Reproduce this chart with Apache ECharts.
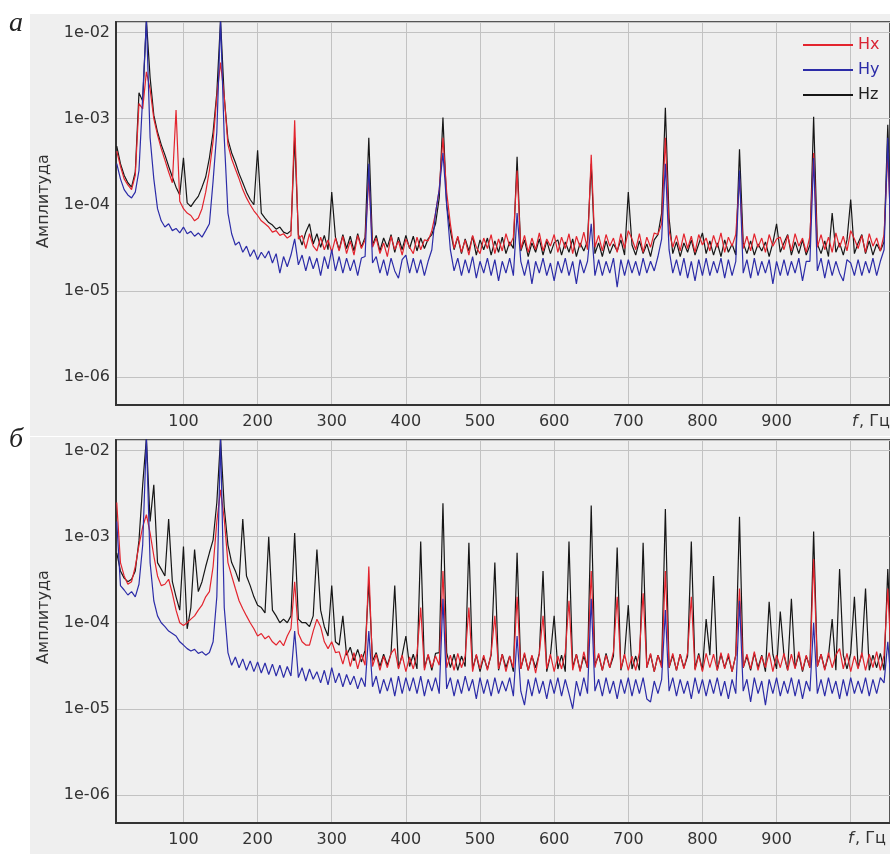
<!DOCTYPE html>
<html>
<head>
<meta charset="utf-8">
<script src="https://cdn.jsdelivr.net/npm/echarts@6/dist/echarts.min.js"></script>
<style>
html, body { margin: 0; padding: 0; background: #fff; }
#wrap { position: relative; width: 890px; height: 854px; overflow: hidden; }
.panel-bg { position: absolute; left: 30px; width: 860px; background: #efefef; }
#chart { position: absolute; left: 0; top: 0; width: 890px; height: 854px; }
</style>
</head>
<body>
<div id="wrap">
  <div class="panel-bg" style="top:14px;height:422px"></div>
  <div class="panel-bg" style="top:437px;height:417px"></div>
  <div id="chart"></div>
</div>
<script>
// сетка частот: 10, 15, ... 1055 Гц
const FREQ_START = 10;
const FREQ_STEP = 5;
// амплитуды записаны в единицах 1e-5
const UNIT = 1e-5;

// ---- панель а ----
const a_hx = [
  42, 28, 20, 17, 15, 22, 150, 130, 350, 220,        // 10
  100, 65, 45, 33, 24, 18, 126, 11, 9, 8,            // 60
  7.5, 6.5, 7, 9, 14, 25, 55, 180, 450, 180,         // 110
  50, 34, 26, 20, 15, 12, 10, 8.5, 7.5, 6.5,         // 160
  6, 5.5, 4.8, 5, 4.4, 4.6, 4.1, 4.4, 96, 4,         // 210
  4.4, 3.1, 4.6, 3.3, 2.9, 4.2, 3, 3.9, 2.8, 4.1,    // 260
  2.9, 4.3, 2.7, 3.8, 2.6, 4.4, 3.1, 3.9, 20, 3.2,   // 310
  4.1, 2.7, 3.6, 2.5, 4.3, 3, 3.8, 2.6, 4, 3.2,      // 360
  2.7, 4.2, 3, 3.9, 3.8, 5, 8, 15, 60, 14,           // 410
  6, 3.1, 4.3, 2.8, 3.9, 2.6, 4.4, 3.2, 2.7, 4.1,    // 460
  3.1, 4.5, 2.7, 4, 2.9, 4.6, 3.3, 4.2, 25, 3,       // 510
  4.4, 2.8, 4.1, 3, 4.7, 2.9, 4, 3.3, 4.5, 2.8,      // 560
  4.2, 3.1, 4.6, 2.7, 4.3, 3.2, 4.8, 3, 38, 3.2,     // 610
  4.4, 2.9, 4.5, 3.3, 4.1, 2.8, 4.6, 3.1, 5, 4,      // 660
  3, 4.6, 2.8, 4.2, 3.2, 4.7, 4.5, 6, 60, 5,         // 710
  3.2, 4.4, 2.9, 4.6, 3.1, 4.3, 2.8, 4.5, 3.4, 4.1,  // 760
  2.9, 4.4, 3.2, 4.7, 2.8, 4.2, 3.3, 4.5, 20, 3.1,   // 810
  4.3, 2.9, 4.6, 3.2, 4.1, 2.8, 4.5, 3.3, 4, 4.2,    // 860
  3, 4.4, 2.9, 4.6, 3.3, 4.1, 2.8, 4.3, 40, 3.2,     // 910
  4.5, 3, 4.2, 2.8, 4.7, 3.2, 4.3, 2.9, 5, 4,        // 960
  3.1, 4.4, 2.8, 4.6, 3.3, 4.1, 2.9, 4.5, 40, 3.4    // 1010
];
const a_hy = [
  30, 20, 15, 13, 12, 14, 25, 180, 1400, 60,
  20, 9, 6.5, 5.5, 6, 5, 5.3, 4.7, 5.5, 4.6,
  4.9, 4.3, 4.7, 4.2, 5, 6, 19, 70, 1400, 60,
  8, 4.6, 3.4, 3.7, 2.8, 3.3, 2.5, 3, 2.3, 2.8,
  2.4, 2.9, 2.1, 2.7, 1.6, 2.5, 1.9, 2.6, 4, 2,
  2.6, 1.7, 2.5, 1.8, 2.4, 1.5, 2.5, 1.8, 3, 1.7,
  2.5, 1.6, 2.4, 1.7, 2.3, 1.5, 2.4, 2.5, 30, 2.1,
  2.5, 1.6, 2.3, 1.5, 2.4, 1.7, 1.4, 2.3, 2.6, 1.6,
  2.4, 1.6, 2.3, 1.5, 2.2, 3, 8, 15, 40, 10,
  3, 1.7, 2.4, 1.5, 2.3, 1.6, 2.5, 1.4, 2.2, 1.6,
  2.4, 1.5, 2.3, 1.3, 2.2, 1.6, 2.4, 1.5, 8, 2.2,
  1.5, 2.3, 1.2, 2.2, 1.6, 2.4, 1.5, 2.1, 1.3, 2.2,
  1.6, 2.4, 1.5, 2.2, 1.2, 2.3, 1.6, 2.2, 6, 1.5,
  2.3, 1.5, 2.2, 1.6, 2.4, 1.1, 2.3, 1.5, 2.3, 1.6,
  2.2, 1.5, 2.4, 1.6, 2.2, 1.7, 2.5, 4, 30, 3,
  1.6, 2.3, 1.5, 2.4, 1.4, 2.2, 1.3, 2.3, 1.5, 2.4,
  1.5, 2.2, 1.6, 2.4, 1.4, 2.3, 1.5, 2.2, 25, 1.6,
  2.3, 1.4, 2.4, 1.5, 2.2, 1.6, 2.3, 1.2, 2.2, 1.5,
  2.3, 1.5, 2.2, 1.6, 2.4, 1.3, 2.2, 2.2, 35, 1.7,
  2.4, 1.4, 2.3, 1.5, 2.2, 1.6, 1.3, 2.3, 2.1, 1.5,
  2.3, 1.5, 2.2, 1.6, 2.4, 1.5, 2.2, 3, 60, 2
];
const a_hz = [
  48, 30, 22, 18, 16, 24, 200, 160, 1400, 300,
  110, 70, 50, 38, 28, 21, 16, 13, 35, 10.5,
  9.5, 11, 12.5, 16, 21, 35, 70, 200, 1400, 180,
  57, 40, 31, 23, 18, 14, 11.5, 10, 43, 8,
  7, 6.2, 5.8, 5.2, 5.5, 4.8, 4.6, 5, 60, 4.5,
  3.4, 4.8, 6, 3.5, 4.6, 3.2, 4.4, 3, 14, 4.2,
  3, 4.5, 3.1, 4.3, 2.9, 4.6, 3.2, 4.2, 60, 3.4,
  4.4, 2.9, 4.1, 3.2, 4.5, 2.8, 4.2, 3, 4.4, 3.1,
  4.3, 2.9, 4.1, 3.1, 4, 4.5, 6, 12, 103, 10,
  5, 3, 4.2, 2.7, 4, 2.9, 4.3, 2.6, 3.9, 3,
  4.1, 2.6, 3.8, 2.8, 4.2, 2.7, 3.7, 3.1, 36, 2.9,
  3.9, 2.5, 3.6, 2.8, 4, 2.6, 3.8, 2.7, 3.6, 3.9,
  2.6, 3.7, 2.8, 4, 2.5, 3.6, 2.9, 3.8, 30, 2.7,
  3.6, 2.5, 3.8, 2.7, 3.5, 2.9, 3.9, 2.6, 14, 3.4,
  2.6, 3.8, 2.7, 3.5, 2.5, 3.9, 4.5, 8, 134, 7,
  2.7, 3.7, 2.5, 3.6, 2.8, 3.9, 2.6, 3.5, 4.7, 2.7,
  3.8, 2.6, 3.6, 2.5, 3.9, 2.8, 3.5, 2.6, 44, 3.6,
  2.7, 3.8, 2.6, 3.5, 2.9, 3.7, 2.5, 3.6, 6, 2.8,
  3.6, 4.5, 2.6, 3.7, 2.7, 3.9, 2.6, 3.4, 105, 3.5,
  2.7, 3.8, 2.5, 8, 2.8, 3.6, 2.6, 3.9, 11.5, 2.7,
  3.6, 4.5, 2.7, 3.8, 2.6, 3.5, 2.9, 3.7, 85, 4
];

// ---- панель б ----
const b_hx = [
  250, 50, 35, 28, 30, 45, 80, 130, 180, 110,
  60, 35, 27, 28, 32, 22, 14, 10, 9.3, 10,
  11, 12, 14, 16, 20, 23, 45, 150, 350, 160,
  50, 35, 25, 18, 14.5, 12, 10, 8.5, 7, 7.5,
  6.5, 7, 6, 5.5, 6.2, 5.4, 7, 8.5, 30, 7.5,
  6, 5.5, 5.5, 8, 11, 9, 6, 5, 6, 4.5,
  4.6, 3.3, 4.8, 3.1, 4.5, 2.9, 4.3, 3.2, 45, 3.1,
  4.3, 2.8, 4.1, 3, 4.4, 5, 2.9, 4.2, 2.7, 4,
  2.9, 4.4, 15, 2.8, 4.3, 3, 4.1, 3.2, 40, 3,
  4.2, 2.8, 4.4, 3, 4.1, 15, 2.7, 4.3, 2.9, 4.2,
  2.8, 4.4, 12, 2.9, 4.3, 2.7, 4.1, 3, 20, 2.9,
  4.5, 2.8, 4.2, 2.6, 4.4, 12, 2.9, 4.3, 2.7, 4.1,
  2.9, 4.5, 18, 2.8, 4.3, 2.7, 4.6, 3, 40, 3,
  4.4, 2.8, 4.2, 3, 4.6, 20, 2.9, 4.3, 2.8, 4.1,
  2.8, 4.5, 22, 3, 4.4, 2.7, 4.2, 3, 40, 3,
  4.4, 2.8, 4.3, 2.9, 4.5, 20, 2.8, 4.2, 2.7, 4.4,
  3, 4.3, 2.8, 4.5, 2.9, 4.4, 2.7, 4.2, 25, 3,
  4.3, 2.9, 4.6, 2.8, 4.1, 3, 4.5, 2.7, 4.2, 3,
  4.4, 2.8, 4.3, 2.9, 4.6, 2.8, 4.2, 3, 55, 3.1,
  4.3, 2.8, 4.5, 3, 4.2, 5, 2.9, 4.4, 2.7, 4.1,
  2.9, 4.5, 2.8, 4.3, 3, 4.6, 2.8, 4.2, 25, 3.2
];
const b_hy = [
  150, 27, 24, 21, 23, 20, 28, 80, 1400, 50,
  18, 12, 10, 9, 8, 7.5, 7, 6, 5.5, 5,
  4.7, 4.9, 4.4, 4.6, 4.2, 4.5, 6, 20, 1400, 15,
  4.5, 3.2, 4, 3, 3.8, 2.8, 3.6, 2.7, 3.5, 2.6,
  3.4, 2.5, 3.3, 2.4, 3.2, 2.3, 3.1, 2.4, 8, 2.3,
  3, 2.1, 2.9, 2.2, 2.7, 2, 2.8, 1.9, 3, 2,
  2.6, 1.8, 2.5, 1.9, 2.4, 1.7, 2.3, 1.8, 8, 1.8,
  2.4, 1.5, 2.2, 1.6, 2.3, 1.4, 2.4, 1.5, 2.3, 1.6,
  2.3, 1.5, 2.4, 1.4, 2.2, 1.6, 2.3, 1.5, 19, 1.7,
  2.3, 1.4, 2.2, 1.5, 2.4, 1.6, 2.2, 1.3, 2.3, 1.5,
  2.2, 1.4, 2.3, 1.5, 2.1, 1.6, 2.3, 1.4, 7, 1.6,
  1.1, 2.2, 1.4, 2.3, 1.5, 2.1, 1.3, 2.2, 1.5, 2.3,
  1.4, 2.2, 1.5, 1, 2.1, 1.4, 2.3, 1.5, 19, 1.6,
  2.2, 1.4, 2.3, 1.5, 2.1, 1.3, 2.2, 1.5, 2.3, 1.4,
  2.2, 1.5, 2.3, 1.3, 1.2, 2.1, 1.5, 2.2, 14, 1.6,
  2.3, 1.4, 2.2, 1.5, 2.1, 1.3, 2.3, 1.5, 2.2, 1.4,
  2.2, 1.5, 2.3, 1.4, 2.1, 1.3, 2.2, 1.5, 18, 1.6,
  2.2, 1.2, 2.3, 1.5, 2.1, 1.1, 2.2, 1.5, 2.3, 1.4,
  2.1, 1.5, 2.3, 1.4, 2.2, 1.3, 2.1, 1.6, 10, 1.5,
  2.2, 1.4, 2.3, 1.5, 2.1, 1.3, 2.2, 1.4, 2.3, 1.5,
  2.1, 1.5, 2.3, 1.4, 2.2, 1.5, 2.3, 2, 6, 1.8
];
const b_hz = [
  65, 40, 33, 30, 32, 40, 90, 400, 1400, 150,
  400, 50, 42, 35, 160, 30, 20, 14, 77, 8.5,
  15, 71, 23, 30, 45, 65, 92, 250, 1400, 220,
  80, 50, 40, 30, 160, 35, 27, 20, 16, 15,
  13, 100, 14, 12, 10, 11, 10, 12, 110, 11,
  10, 10, 9, 12, 71, 14, 9, 7, 27, 6,
  5.5, 12, 4.2, 5.2, 3.6, 4.9, 3.5, 4.8, 30, 3.6,
  4.5, 3.1, 4.3, 3.2, 4.4, 27, 3, 4.2, 7, 3.1,
  4.3, 2.9, 88, 3, 4.2, 2.8, 4.4, 4.5, 245, 4.5,
  3, 4.3, 2.8, 4.1, 3.1, 85, 2.9, 4.2, 2.7, 4,
  2.9, 4.2, 50, 2.8, 4.3, 3, 4.1, 2.7, 65, 2.9,
  4.3, 2.8, 4.1, 3, 4.4, 40, 2.7, 4.2, 12, 2.9,
  4.2, 2.7, 88, 3, 4.3, 2.8, 4.1, 3, 230, 3.2,
  4.2, 2.8, 4.4, 3, 4.1, 75, 2.8, 4.3, 16, 2.9,
  4.1, 2.8, 85, 3, 4.3, 2.7, 4.2, 3.2, 210, 3,
  4.2, 2.8, 4.3, 3, 4.1, 88, 2.9, 4.4, 2.8, 11,
  4.2, 35, 2.8, 4.3, 3, 4.1, 2.7, 4.2, 170, 3,
  4.1, 2.8, 4.4, 3, 4.2, 2.7, 17.5, 4.3, 2.9, 13.5,
  4.2, 2.8, 19, 3, 4.3, 2.7, 4.1, 3, 115, 3.1,
  4.3, 2.9, 4.1, 11, 2.8, 42, 4.2, 2.9, 4.4, 20,
  3, 4.3, 25, 2.8, 4.2, 3, 4.4, 2.8, 42, 4
];

const COLORS = { Hx: '#e3242e', Hy: '#2c2ca8', Hz: '#161616' };
const FONT = 'DejaVu Sans';

const toPairs = arr => arr.map((v, i) => [FREQ_START + i * FREQ_STEP, v * UNIT]);

const chart = echarts.init(document.getElementById('chart'));

const grids = [
  { left: 116, top: 22, width: 776, height: 383 },
  { left: 116, top: 440, width: 776, height: 383 }
];

const xAxis = grids.map((_, i) => ({
  type: 'value',
  gridIndex: i,
  min: 9,
  max: 1053,
  splitNumber: 10,
  axisLine: { show: true, onZero: false, lineStyle: { color: '#333', width: 2 } },
  axisTick: { show: false },
  axisLabel: {
    color: '#333', fontFamily: FONT, fontSize: 16, margin: 9,
    showMinLabel: false, showMaxLabel: false,
    formatter: v => (v === 1000 ? '' : v)
  },
  splitLine: { show: true, lineStyle: { color: '#c2c2c2', width: 1 } }
}));

const yAxis = grids.map((_, i) => ({
  type: 'log',
  logBase: 10,
  gridIndex: i,
  min: 4.7e-7,
  max: 1.33e-2,
  axisLine: { show: true, lineStyle: { color: '#333', width: 2 } },
  axisTick: { show: false },
  axisLabel: {
    color: '#333', fontFamily: FONT, fontSize: 16, margin: 6,
    showMinLabel: false, showMaxLabel: false,
    formatter: v => '1e-' + String(-Math.round(Math.log10(v))).padStart(2, '0')
  },
  splitLine: { show: true, lineStyle: { color: '#c2c2c2', width: 1 } }
}));

function mk(name, arr, idx) {
  return {
    name,
    type: 'line',
    xAxisIndex: idx,
    yAxisIndex: idx,
    data: toPairs(arr),
    showSymbol: false,
    symbol: 'none',
    clip: true,
    lineStyle: { width: 1.2, color: COLORS[name] },
    itemStyle: { color: COLORS[name] },
    animation: false
  };
}

const series = [
  mk('Hz', a_hz, 0), mk('Hx', a_hx, 0), mk('Hy', a_hy, 0),
  mk('Hz', b_hz, 1), mk('Hx', b_hx, 1), mk('Hy', b_hy, 1)
];

// подписи, которых нет в осях
const labelText = (x, y, text, extra) => ({
  type: 'text', x, y, silent: true,
  style: Object.assign({ text, fill: '#333', font: '16px "DejaVu Sans"' }, extra || {})
});

const graphic = [
  labelText(44, 201, 'Амплитуда', { align: 'center', verticalAlign: 'middle', textAlign: 'center', textVerticalAlign: 'middle' }),
  labelText(44, 617, 'Амплитуда', { align: 'center', verticalAlign: 'middle', textAlign: 'center', textVerticalAlign: 'middle' }),
  labelText(9, 10, 'a', { font: 'italic 28px "Liberation Serif"', fill: '#222' }),
  labelText(9, 426, 'б', { font: 'italic 28px "Liberation Serif"', fill: '#222' }),
  labelText(852, 414, 'f', { font: 'italic 16px "DejaVu Sans"' }),
  labelText(859, 414, ', Гц'),
  labelText(848, 831, 'f', { font: 'italic 16px "DejaVu Sans"' }),
  labelText(855, 831, ', Гц')
];
graphic[0].rotation = Math.PI / 2;
graphic[1].rotation = Math.PI / 2;

chart.setOption({
  animation: false,
  grid: grids.map(g => Object.assign({ show: true, borderColor: '#555', borderWidth: 2, backgroundColor: 'transparent' }, g)),
  xAxis,
  yAxis,
  legend: {
    data: [
      { name: 'Hx', textStyle: { color: '#d92535' } },
      { name: 'Hy', textStyle: { color: '#2c2ca8' } },
      { name: 'Hz', textStyle: { color: '#222' } }
    ],
    orient: 'vertical',
    left: 798,
    top: 32,
    icon: 'rect',
    itemWidth: 50,
    itemHeight: 2,
    itemGap: 9,
    textStyle: { fontFamily: FONT, fontSize: 16 }
  },
  series,
  graphic
});
</script>
</body>
</html>
